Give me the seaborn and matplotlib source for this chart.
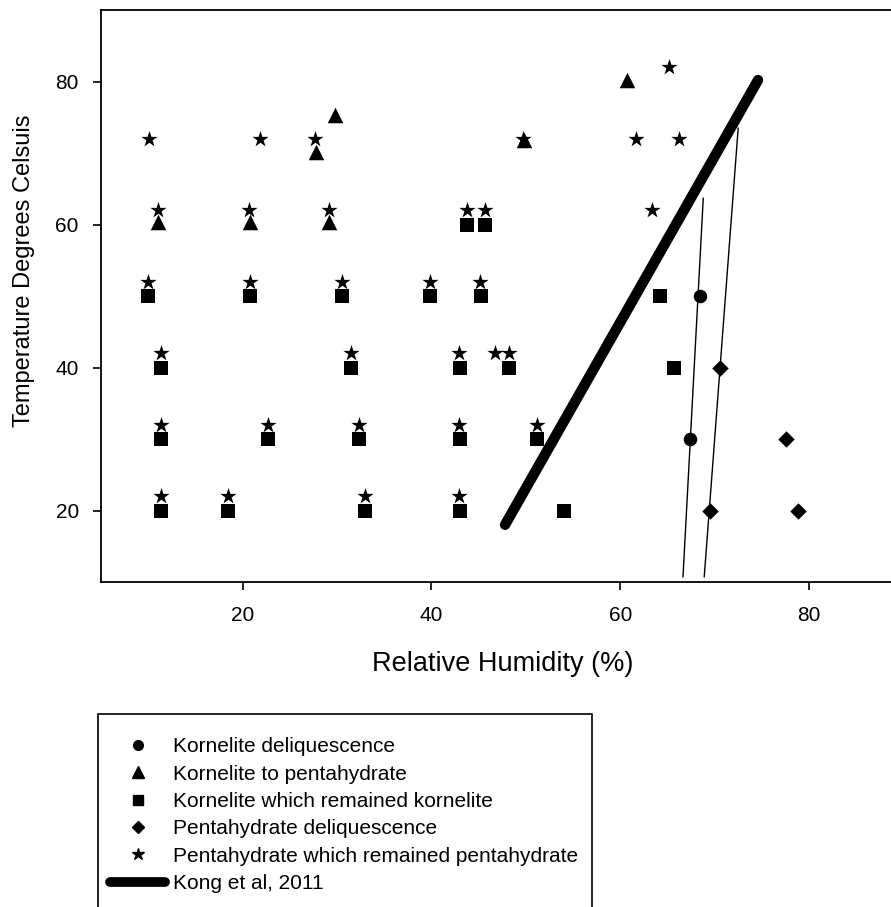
import matplotlib
matplotlib.use("Agg")
import matplotlib.pyplot as plt
from matplotlib.lines import Line2D
from matplotlib.patches import Rectangle
import seaborn as sns
import pandas as pd

sns.set_style("ticks")
plt.rcParams['font.family'] = ['Liberation Sans', 'DejaVu Sans']
plt.rcParams['text.color'] = 'black'
plt.rcParams['axes.labelcolor'] = 'black'

# ---- data ----
kd_x = [68.5, 67.4]
kd_y = [50, 30]

kp_x = [29.8, 27.8, 11.0, 20.8, 29.2, 60.7, 49.8]
kp_y = [75.3, 70.1, 60.3, 60.3, 60.3, 80.2, 71.8]

kk_x = [43.8, 45.7,
        10.0, 20.8, 30.5, 39.9, 45.3, 64.2,
        11.4, 31.5, 43.0, 48.2, 65.7,
        11.4, 22.7, 32.3, 43.0, 51.2,
        11.4, 18.5, 33.0, 43.0, 54.0]
kk_y = [60, 60,
        50, 50, 50, 50, 50, 50,
        40, 40, 40, 40, 40,
        30, 30, 30, 30, 30,
        20, 20, 20, 20, 20]

pd_x = [70.6, 69.5, 77.6, 78.8]
pd_y = [39.9, 19.9, 30.0, 20.0]

pp_x = [65.2,
        10.1, 21.8, 27.7, 49.7, 61.7, 66.2,
        11.0, 20.7, 29.2, 43.8, 45.7, 63.4,
        10.0, 20.8, 30.5, 39.9, 45.2,
        11.4, 31.5, 42.9, 46.7, 48.2,
        11.4, 22.7, 32.3, 42.9, 51.2,
        11.4, 18.5, 33.0, 42.9]
pp_y = [82,
        72, 72, 72, 72, 72, 72,
        62, 62, 62, 62, 62, 62,
        52, 52, 52, 52, 52,
        42, 42, 42, 42, 42,
        32, 32, 32, 32, 32,
        22, 22, 22, 22]

kong_x = [47.8, 74.6]
kong_y = [18.0, 80.2]

lineA_x = [68.8, 66.65]
lineA_y = [63.7, 10.7]
lineB_x = [72.5, 68.9]
lineB_y = [73.5, 10.7]

labels = ["Kornelite deliquescence", "Kornelite to pentahydrate",
          "Kornelite which remained kornelite", "Pentahydrate deliquescence",
          "Pentahydrate which remained pentahydrate", "Kong et al, 2011"]

# ---- figure ----
W, H = 891, 907
fig = plt.figure(figsize=(W / 100, H / 100), dpi=100)
ax = fig.add_axes([101 / W, (H - 582) / H, (903.4 - 101) / W, 572 / H])

sns.lineplot(x=lineA_x, y=lineA_y, ax=ax, color="black", lw=1.0, sort=False,
             estimator=None, zorder=1)
sns.lineplot(x=lineB_x, y=lineB_y, ax=ax, color="black", lw=1.0, sort=False,
             estimator=None, zorder=1)
sns.lineplot(x=kong_x, y=kong_y, ax=ax, color="black", lw=7.5, sort=False,
             estimator=None, zorder=3, solid_capstyle="round")

def sc(x, y, m, s):
    sns.scatterplot(x=x, y=y, ax=ax, marker=m, s=s, color="black",
                    linewidth=0, zorder=2)

sc(kd_x, kd_y, "o", 95)
sc(kp_x, kp_y, "^", 125)
sc(kk_x, kk_y, "s", 100)
sc(pd_x, pd_y, "D", 70)
sc(pp_x, pp_y, "*", 150)

ax.set_xlim(5, 90)
ax.set_ylim(10, 90)
ax.set_xticks([20, 40, 60, 80])
ax.set_yticks([20, 40, 60, 80])
ax.tick_params(direction="out", length=6, width=1.2, labelsize=15, pad=11,
               colors="black")
ax.tick_params(axis="y", pad=10)
for sp in ax.spines.values():
    sp.set_linewidth(1.3)
    sp.set_color("black")

ax.set_xlabel("Relative Humidity (%)", fontsize=19.5, color="black")
ax.set_ylabel("Temperature Degrees Celsuis", fontsize=17, color="black")
ax.xaxis.set_label_coords(0.5, -0.12)
ax.yaxis.set_label_coords(-0.082, 0.544)

# ---- legend ----
handles = [
    Line2D([], [], ls="", marker="o", color="black", ms=7),
    Line2D([], [], ls="", marker="^", color="black", ms=8),
    Line2D([], [], ls="", marker="s", color="black", ms=7.5),
    Line2D([], [], ls="", marker="D", color="black", ms=6.5),
    Line2D([], [], ls="", marker="*", color="black", ms=9),
    Line2D([], [], color="black", lw=7, solid_capstyle="round"),
]
leg = fig.legend(handles, labels, loc="upper left",
                 bbox_to_anchor=(100 / W, 1 - 727 / H),
                 frameon=False, fontsize=15, borderpad=0,
                 handlelength=2.6, handletextpad=0.4, labelspacing=0.4)
for t in leg.get_texts():
    t.set_color("black")
fig.add_artist(Rectangle((98 / W, (H - 925) / H), (592 - 98) / W, (925 - 714) / H,
                         transform=fig.transFigure, fill=False,
                         edgecolor="black", linewidth=1.2))

fig.savefig("out.png", dpi=100)
